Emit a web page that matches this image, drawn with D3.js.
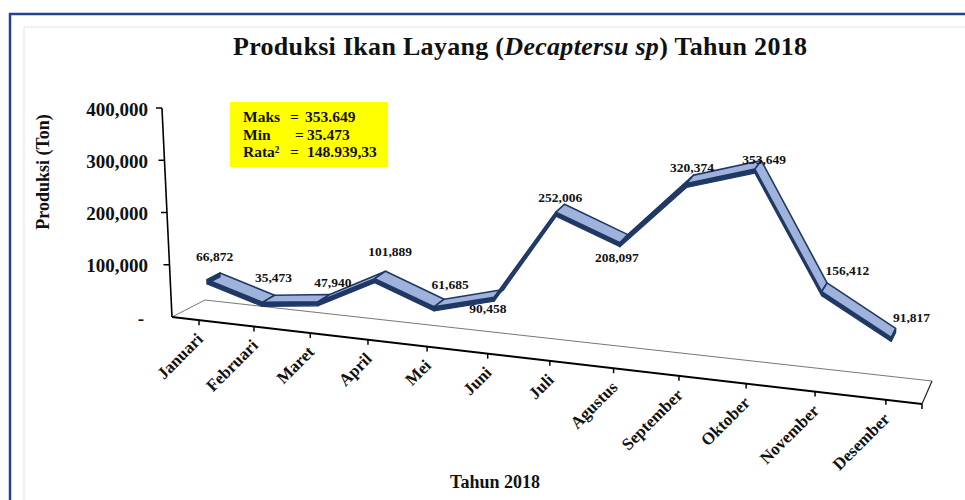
<!DOCTYPE html>
<html>
<head>
<meta charset="utf-8">
<script src="https://cdn.jsdelivr.net/npm/d3@7/dist/d3.min.js"></script>
<style>
  html, body { margin: 0; padding: 0; background: #ffffff; }
  svg { display: block; }
  text { font-family: "Liberation Serif", "Times New Roman", serif; font-weight: bold; fill: #111; }
</style>
</head>
<body>
<svg id="chart" width="965" height="500"></svg>
<script>
// Monthly catch of Decapterus sp. in 2018 (tons)
const months = ["Januari", "Februari", "Maret", "April", "Mei", "Juni",
                "Juli", "Agustus", "September", "Oktober", "November", "Desember"];
const production = [66872, 35473, 47940, 101889, 61685, 90458,
                    252006, 208097, 320374, 353649, 156412, 91817];
const valueTicks = [0, 100000, 200000, 300000, 400000];
const summaryNames = ["Maks", "Min", "Rata\u00B2"];
const summaryValues = ["353.649", "35.473", "148.939,33"];

const svg = d3.select("#chart");

// ---- frame ----
svg.append("rect").attr("x", 24).attr("y", 27).attr("width", 1000).attr("height", 600)
  .attr("fill", "#fff").attr("stroke", "#e6e6e6").attr("stroke-width", 1);
svg.append("rect").attr("x", 10).attr("y", 14).attr("width", 1000).attr("height", 600)
  .attr("fill", "none").attr("stroke", "#24438c").attr("stroke-width", 2.5);

// ---- 3-D projection of the plot box ----
// floor corners: front-left, front-right, back-right, back-left
const FL = [172, 317], FR = [922, 404], BR = [932, 381], BL = [205, 300];
const persp = 0.859;             // foreshortening along the category axis
const x = d3.scalePoint().domain(months).range([0, 1]).padding(0.5);
const y = d3.scaleLinear().domain([0, 400000]).range([0, 209]);
const fmt = d3.format(",");

const lerp = (p, q, t) => [p[0] + (q[0] - p[0]) * t, p[1] + (q[1] - p[1]) * t];
const along = u => persp * u / (1 + (persp - 1) * u);
const depthScale = u => 1 / (1 + (persp - 1) * u);
function floorPt(u, w) {
  const f = along(u);
  return lerp(lerp(FL, FR, f), lerp(BL, BR, f), w);
}
function project(u, w, v) {
  const b = floorPt(u, w);
  const h = y(v) * depthScale(u);
  const lean = (b[0] - 580) / 8500;   // verticals converge slightly downward
  return [b[0] + lean * h, b[1] - h];
}

// ---- floor ----
const floor = svg.append("g");
floor.append("path")
  .attr("d", d3.line()([FL, FR, BR, BL]) + "Z")
  .attr("fill", "#fff").attr("stroke", "none");
floor.append("path").attr("d", d3.line()([FL, BL, BR]))
  .attr("fill", "none").attr("stroke", "#777").attr("stroke-width", 1);
floor.append("path").attr("d", d3.line()([BR, FR]))
  .attr("fill", "none").attr("stroke", "#222").attr("stroke-width", 1.2);
floor.append("path").attr("d", d3.line()([FL, FR]))
  .attr("fill", "none").attr("stroke", "#000").attr("stroke-width", 2);

// category ticks along the front edge
const tickUs = months.map(m => x(m)).concat([1]);
floor.selectAll("line.xt").data(tickUs).join("line").attr("class", "xt")
  .attr("x1", u => floorPt(u, 0)[0]).attr("y1", u => floorPt(u, 0)[1])
  .attr("x2", u => floorPt(u, 0)[0]).attr("y2", u => floorPt(u, 0)[1] + 5)
  .attr("stroke", "#000").attr("stroke-width", 1.5);

// category labels
svg.append("g").selectAll("text").data(months).join("text")
  .attr("transform", m => {
    const p = floorPt(x(m), 0);
    return `translate(${p[0] + 5},${p[1] + 20}) rotate(-45)`;
  })
  .attr("text-anchor", "end")
  .attr("font-size", 17)
  .text(m => m);

// ---- value axis ----
const axis = svg.append("g");
const axTop = project(0, 0, 400000);
axis.append("line").attr("x1", FL[0]).attr("y1", FL[1]).attr("x2", axTop[0]).attr("y2", axTop[1])
  .attr("stroke", "#000").attr("stroke-width", 1.6);
axis.selectAll("line.yt").data(valueTicks.filter(v => v > 0)).join("line").attr("class", "yt")
  .attr("x1", v => project(0, 0, v)[0]).attr("y1", v => project(0, 0, v)[1])
  .attr("x2", v => project(0, 0, v)[0] - 6).attr("y2", v => project(0, 0, v)[1])
  .attr("stroke", "#000").attr("stroke-width", 1.5);
axis.selectAll("text").data(valueTicks).join("text")
  .attr("x", v => v === 0 ? 144 : 148)
  .attr("y", v => project(0, 0, v)[1] + 1)
  .attr("dominant-baseline", "central")
  .attr("text-anchor", "end")
  .attr("font-size", 19)
  .text(v => v === 0 ? "-" : fmt(v));

// ---- ribbon ----
const w0 = 0.3, w1 = 0.7, thick = 4;
const ribbon = svg.append("g");
for (let i = 0; i < production.length - 1; i++) {
  const u0 = x(months[i]), u1 = x(months[i + 1]);
  const a = project(u0, w0, production[i]), b = project(u1, w0, production[i + 1]);
  const c = project(u1, w1, production[i + 1]), d = project(u0, w1, production[i]);
  // front side of the ribbon (thickness)
  ribbon.append("path")
    .attr("d", d3.line()([a, b, [b[0], b[1] + thick], [a[0], a[1] + thick]]) + "Z")
    .attr("fill", "#1f3864").attr("stroke", "#1f3864").attr("stroke-width", 1.2)
    .attr("stroke-linejoin", "round");
  const cross = (b[0] - a[0]) * (d[1] - a[1]) - (b[1] - a[1]) * (d[0] - a[0]);
  ribbon.append("path")
    .attr("d", d3.line()([a, b, c, d]) + "Z")
    .attr("fill", cross < 0 ? "#9fb2dc" : "#243f73")
    .attr("stroke", "#1f3864").attr("stroke-width", 1.6)
    .attr("stroke-linejoin", "round");
}
// end caps
[0, production.length - 1].forEach(i => {
  const u = x(months[i]);
  const a = project(u, w0, production[i]), d = project(u, w1, production[i]);
  ribbon.append("path")
    .attr("d", d3.line()([a, d, [d[0], d[1] + thick], [a[0], a[1] + thick]]) + "Z")
    .attr("fill", "#1f3864").attr("stroke", "#1f3864").attr("stroke-width", 1.2);
});

// ---- data labels ----
const labelNudge = [[1, -20], [5, -21], [9, -16], [10, -23], [11, -19], [-11, 15],
                    [0, -11], [-7, 19], [2, -12], [6, -5], [23, -17], [18, -15]];
svg.append("g").selectAll("text").data(production).join("text")
  .attr("x", (v, i) => project(x(months[i]), 0.5, v)[0] + labelNudge[i][0])
  .attr("y", (v, i) => project(x(months[i]), 0.5, v)[1] + labelNudge[i][1])
  .attr("text-anchor", "middle")
  .attr("dominant-baseline", "central")
  .attr("font-size", 13.5)
  .attr("fill", "#222")
  .text(v => fmt(v));

// ---- summary box ----
const box = svg.append("g");
box.append("rect").attr("x", 230).attr("y", 102).attr("width", 158).attr("height", 65)
  .attr("fill", "#ffff00");
const eqX = [290, 295, 290], valX = [305, 307, 307];
summaryNames.forEach((n, i) => {
  const t = box.append("text").attr("y", 122 + i * 17.5).attr("font-size", 15.5);
  t.append("tspan").attr("x", 243).text(n);
  t.append("tspan").attr("x", eqX[i]).text("=");
  t.append("tspan").attr("x", valX[i]).text(summaryValues[i]);
});

// ---- titles ----
const title = svg.append("text").attr("x", 520).attr("y", 55)
  .attr("text-anchor", "middle").attr("font-size", 26)
  .attr("textLength", 574).attr("lengthAdjust", "spacing");
title.append("tspan").text("Produksi Ikan Layang (");
title.append("tspan").attr("font-style", "italic").text("Decaptersu sp");
title.append("tspan").text(") Tahun 2018");

svg.append("text").attr("transform", "translate(49,172) rotate(-90)")
  .attr("text-anchor", "middle").attr("font-size", 18)
  .text("Produksi (Ton)");

svg.append("text").attr("x", 495).attr("y", 488)
  .attr("text-anchor", "middle").attr("font-size", 18)
  .text("Tahun 2018");
</script>
</body>
</html>
